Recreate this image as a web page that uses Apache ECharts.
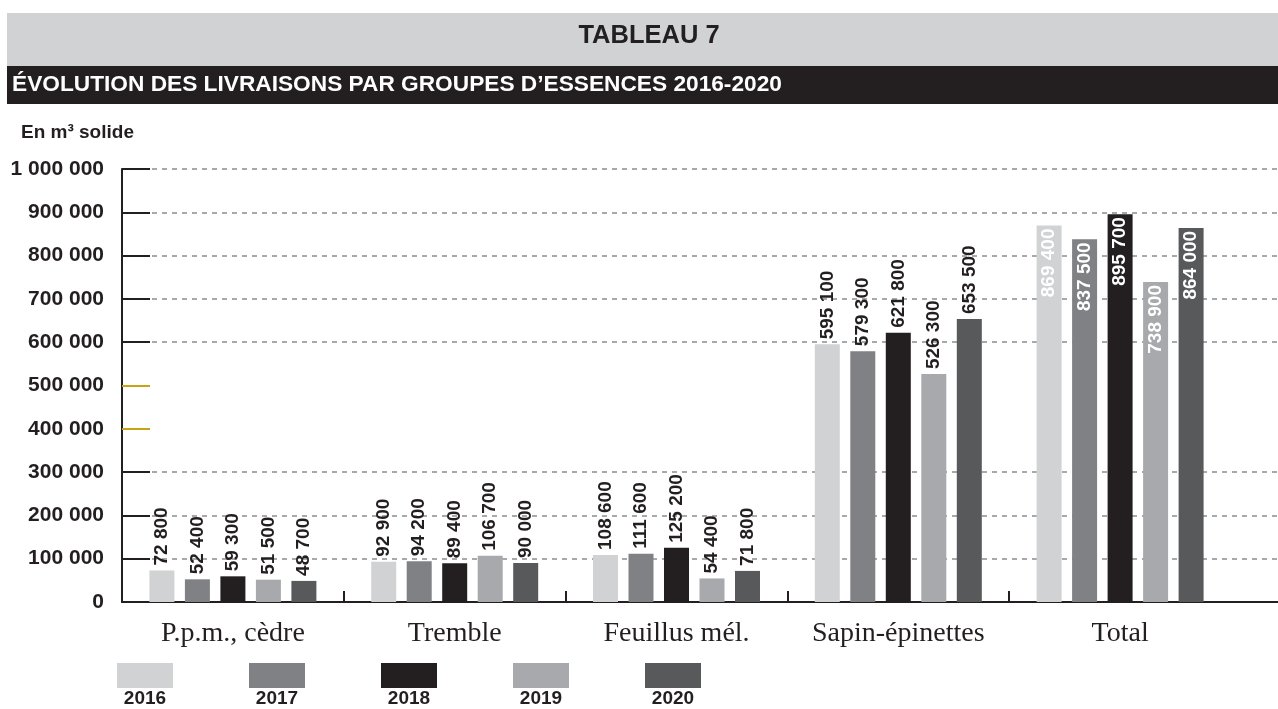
<!DOCTYPE html>
<html>
<head>
<meta charset="utf-8">
<script src="https://cdn.jsdelivr.net/npm/echarts@6/dist/echarts.min.js"></script>
<style>
    html, body { margin: 0; padding: 0; background: #fff; }
    #chart { width: 1278px; height: 709px; }
</style>
</head>
<body>
<div id="chart"></div>
<script>
// données (m³ solide)
const categories = ['P.p.m., cèdre', 'Tremble', 'Feuillus mél.', 'Sapin-épinettes', 'Total']
const years = ['2016', '2017', '2018', '2019', '2020']
const v2016 = [72800, 92900, 108600, 595100, 869400]
const v2017 = [52400, 94200, 111600, 579300, 837500]
const v2018 = [59300, 89400, 125200, 621800, 895700]
const v2019 = [51500, 106700, 54400, 526300, 738900]
const v2020 = [48700, 90000, 71800, 653500, 864000]
const yTicks = [0, 100000, 200000, 300000, 400000, 500000, 600000, 700000, 800000, 900000, 1000000]
const goldTicks = [400000, 500000]

const seriesValues = [v2016, v2017, v2018, v2019, v2020]
const colors = ['#d1d2d4', '#808184', '#231f20', '#a7a9ac', '#58595b']
const sans = "'Liberation Sans', Arial, sans-serif"
const serif = "'Liberation Serif', 'DejaVu Serif', serif"
const dark = '#231f20'

const fmt = v => String(v).replace(/\B(?=(\d{3})+(?!\d))/g, ' ')

// mise en page
const W = 1278
const gridLeft = 122
const barsRight = 47
// l'axe du fond va jusqu'au bord, les barres s'arrêtent avant
const fullSpan = categories.length * (W - gridLeft) / (W - gridLeft - barsRight)
// graduations entre les groupes (pas au bout)
const groupTicks = categories.slice(1).map((c, i) => i + 1)

// légende : carré au-dessus de l'année
const legendLeft = 117
const legendPitch = 132
const legendIconW = 56

const outsideLabel = {
    show: true,
    position: 'top',
    rotate: 90,
    align: 'left',
    verticalAlign: 'middle',
    distance: 5,
    color: dark,
    fontFamily: sans,
    fontWeight: 'bold',
    fontSize: 19,
    formatter: p => fmt(p.value)
}
const insideLabel = Object.assign({}, outsideLabel, {
    position: 'insideTop',
    align: 'right',
    distance: 3,
    color: '#fff'
})

const chart = echarts.init(document.getElementById('chart'), null, { renderer: 'canvas' })

const option = {
    animation: false,
    color: colors,
    grid: [
        { left: gridLeft, right: 0, top: 169, bottom: 107, outerBoundsMode: 'none', containLabel: false },
        { left: gridLeft, right: barsRight, top: 169, bottom: 107, outerBoundsMode: 'none', containLabel: false }
    ],
    legend: {
        data: years,
        left: legendLeft,
        top: 663,
        padding: 0,
        icon: 'rect',
        itemWidth: legendIconW,
        itemHeight: 25,
        itemGap: legendPitch - legendIconW,
        selectedMode: false,
        formatter: () => '',
        textStyle: { fontSize: 1 }
    },
    xAxis: [
        {
            gridIndex: 0,
            type: 'value',
            min: 0,
            max: fullSpan,
            axisLine: { show: true, lineStyle: { color: dark, width: 2 } },
            axisTick: {
                show: true,
                inside: true,
                length: 11,
                customValues: groupTicks,
                lineStyle: { color: dark, width: 2 }
            },
            axisLabel: { show: false },
            splitLine: { show: false }
        },
        {
            gridIndex: 1,
            type: 'category',
            data: categories,
            axisLine: { show: false },
            axisTick: { show: false },
            axisLabel: { interval: 0, margin: 18, fontFamily: serif, fontSize: 28, color: dark }
        }
    ],
    yAxis: [
        {
            gridIndex: 0,
            type: 'value',
            min: 0,
            max: 1000000,
            interval: 100000,
            axisLine: { show: true, lineStyle: { color: dark, width: 2 } },
            axisTick: {
                show: true,
                inside: true,
                length: 28,
                customValues: yTicks.filter(t => goldTicks.indexOf(t) < 0),
                lineStyle: { color: dark, width: 2 }
            },
            axisLabel: {
                margin: 18,
                fontFamily: sans,
                fontWeight: 'bold',
                fontSize: 21,
                color: dark,
                formatter: v => fmt(v)
            },
            splitLine: { show: true, lineStyle: { color: '#a7a9ac', width: 2, type: [5, 5] } }
        },
        {
            gridIndex: 1,
            type: 'value',
            min: 0,
            max: 1000000,
            interval: 100000,
            show: false
        },
        {
            // deux graduations dorées
            gridIndex: 0,
            type: 'value',
            min: 0,
            max: 1000000,
            interval: 100000,
            position: 'left',
            axisLine: { show: false },
            axisTick: {
                show: true,
                inside: true,
                length: 28,
                customValues: goldTicks,
                lineStyle: { color: '#c9a316', width: 2 }
            },
            axisLabel: { show: false },
            splitLine: { show: false }
        }
    ],
    series: years.map((y, i) => ({
        name: y,
        type: 'bar',
        xAxisIndex: 1,
        yAxisIndex: 1,
        barWidth: 25,
        barGap: '42%',
        label: outsideLabel,
        data: seriesValues[i].map((v, c) =>
            c === categories.length - 1 ? { value: v, label: insideLabel } : v
        )
    })),
    graphic: [
        { type: 'rect', shape: { x: 7, y: 13, width: 1271, height: 53 }, style: { fill: '#d1d2d4' }, z: 0 },
        { type: 'rect', shape: { x: 7, y: 66, width: 1271, height: 38 }, style: { fill: dark }, z: 0 },
        {
            type: 'text', x: 649, y: 36, z: 1,
            style: { text: 'TABLEAU 7', fill: dark, font: `bold 25.5px ${sans}`, textAlign: 'center', textVerticalAlign: 'middle' }
        },
        {
            type: 'text', x: 12, y: 85, z: 1,
            style: { text: 'ÉVOLUTION DES LIVRAISONS PAR GROUPES D’ESSENCES 2016-2020', fill: '#fff', font: `bold 22.7px ${sans}`, textAlign: 'left', textVerticalAlign: 'middle' }
        },
        {
            type: 'text', x: 21, y: 133, z: 1,
            style: { text: 'En m³ solide', fill: dark, font: `bold 19px ${sans}`, textAlign: 'left', textVerticalAlign: 'middle' }
        }
    ].concat(years.map((y, i) => ({
        type: 'text',
        x: legendLeft + i * legendPitch + legendIconW / 2,
        y: 699,
        z: 1,
        style: { text: y, fill: dark, font: `bold 19px ${sans}`, textAlign: 'center', textVerticalAlign: 'middle' }
    })))
}

chart.setOption(option)
window.addEventListener('resize', () => chart.resize())
</script>
</body>
</html>
